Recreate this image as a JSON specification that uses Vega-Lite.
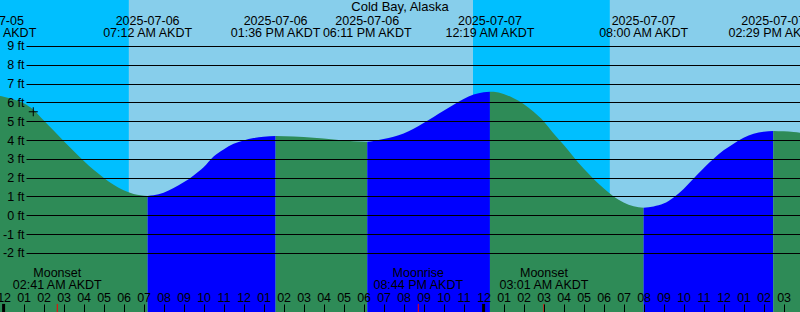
{
  "$schema": "https://vega.github.io/schema/vega-lite/v6.json",
  "width": 800,
  "height": 312,
  "autosize": {"type": "none"},
  "padding": 0,
  "background": "white",
  "config": {"view": {"stroke": null}, "font": "Liberation Sans", "axis": {"labelFontSize": 12.5, "labelFont": "Liberation Sans", "labelColor": "black"}},
  "title": {"text": "Cold Bay, Alaska", "fontSize": 13, "font": "Liberation Sans", "fontWeight": "normal", "color": "black", "offset": -24, "baseline": "alphabetic", "anchor": "middle"},
  "datasets": {
    "sky": [
      {"start": "2025-07-05T23:00", "end": "2025-07-06T06:16", "kind": "night"},
      {"start": "2025-07-06T06:16", "end": "2025-07-06T23:28", "kind": "day"},
      {"start": "2025-07-06T23:28", "end": "2025-07-07T06:19", "kind": "night"},
      {"start": "2025-07-07T06:19", "end": "2025-07-07T16:30", "kind": "day"}
    ],
    "tide": [
      {"time": "2025-07-05T23:25", "ft": 6.40, "kind": "falling", "seg": "A"},
      {"time": "2025-07-06T00:00", "ft": 6.30, "kind": "falling", "seg": "A"},
      {"time": "2025-07-06T00:30", "ft": 6.15, "kind": "falling", "seg": "A"},
      {"time": "2025-07-06T01:00", "ft": 5.95, "kind": "falling", "seg": "A"},
      {"time": "2025-07-06T01:30", "ft": 5.60, "kind": "falling", "seg": "A"},
      {"time": "2025-07-06T02:00", "ft": 5.05, "kind": "falling", "seg": "A"},
      {"time": "2025-07-06T02:30", "ft": 4.50, "kind": "falling", "seg": "A"},
      {"time": "2025-07-06T03:00", "ft": 3.95, "kind": "falling", "seg": "A"},
      {"time": "2025-07-06T03:30", "ft": 3.42, "kind": "falling", "seg": "A"},
      {"time": "2025-07-06T04:00", "ft": 2.90, "kind": "falling", "seg": "A"},
      {"time": "2025-07-06T04:30", "ft": 2.42, "kind": "falling", "seg": "A"},
      {"time": "2025-07-06T05:00", "ft": 2.00, "kind": "falling", "seg": "A"},
      {"time": "2025-07-06T05:30", "ft": 1.62, "kind": "falling", "seg": "A"},
      {"time": "2025-07-06T06:00", "ft": 1.33, "kind": "falling", "seg": "A"},
      {"time": "2025-07-06T06:30", "ft": 1.13, "kind": "falling", "seg": "A"},
      {"time": "2025-07-06T07:12", "ft": 1.03, "kind": "falling", "seg": "A"},
      {"time": "2025-07-06T07:12", "ft": 1.03, "kind": "rising", "seg": "B"},
      {"time": "2025-07-06T07:30", "ft": 1.06, "kind": "rising", "seg": "B"},
      {"time": "2025-07-06T08:00", "ft": 1.20, "kind": "rising", "seg": "B"},
      {"time": "2025-07-06T08:30", "ft": 1.45, "kind": "rising", "seg": "B"},
      {"time": "2025-07-06T09:00", "ft": 1.75, "kind": "rising", "seg": "B"},
      {"time": "2025-07-06T09:30", "ft": 2.12, "kind": "rising", "seg": "B"},
      {"time": "2025-07-06T10:00", "ft": 2.55, "kind": "rising", "seg": "B"},
      {"time": "2025-07-06T10:30", "ft": 3.12, "kind": "rising", "seg": "B"},
      {"time": "2025-07-06T11:00", "ft": 3.50, "kind": "rising", "seg": "B"},
      {"time": "2025-07-06T11:30", "ft": 3.80, "kind": "rising", "seg": "B"},
      {"time": "2025-07-06T12:00", "ft": 3.98, "kind": "rising", "seg": "B"},
      {"time": "2025-07-06T12:30", "ft": 4.10, "kind": "rising", "seg": "B"},
      {"time": "2025-07-06T13:00", "ft": 4.17, "kind": "rising", "seg": "B"},
      {"time": "2025-07-06T13:36", "ft": 4.21, "kind": "rising", "seg": "B"},
      {"time": "2025-07-06T13:36", "ft": 4.21, "kind": "falling", "seg": "C"},
      {"time": "2025-07-06T14:30", "ft": 4.18, "kind": "falling", "seg": "C"},
      {"time": "2025-07-06T15:30", "ft": 4.12, "kind": "falling", "seg": "C"},
      {"time": "2025-07-06T16:30", "ft": 4.03, "kind": "falling", "seg": "C"},
      {"time": "2025-07-06T17:30", "ft": 3.94, "kind": "falling", "seg": "C"},
      {"time": "2025-07-06T18:11", "ft": 3.91, "kind": "falling", "seg": "C"},
      {"time": "2025-07-06T18:11", "ft": 3.91, "kind": "rising", "seg": "D"},
      {"time": "2025-07-06T18:30", "ft": 3.95, "kind": "rising", "seg": "D"},
      {"time": "2025-07-06T19:00", "ft": 4.05, "kind": "rising", "seg": "D"},
      {"time": "2025-07-06T19:30", "ft": 4.17, "kind": "rising", "seg": "D"},
      {"time": "2025-07-06T20:00", "ft": 4.35, "kind": "rising", "seg": "D"},
      {"time": "2025-07-06T20:30", "ft": 4.60, "kind": "rising", "seg": "D"},
      {"time": "2025-07-06T21:00", "ft": 4.90, "kind": "rising", "seg": "D"},
      {"time": "2025-07-06T21:30", "ft": 5.22, "kind": "rising", "seg": "D"},
      {"time": "2025-07-06T22:00", "ft": 5.55, "kind": "rising", "seg": "D"},
      {"time": "2025-07-06T22:30", "ft": 5.88, "kind": "rising", "seg": "D"},
      {"time": "2025-07-06T23:00", "ft": 6.18, "kind": "rising", "seg": "D"},
      {"time": "2025-07-06T23:30", "ft": 6.42, "kind": "rising", "seg": "D"},
      {"time": "2025-07-07T00:00", "ft": 6.54, "kind": "rising", "seg": "D"},
      {"time": "2025-07-07T00:19", "ft": 6.57, "kind": "rising", "seg": "D"},
      {"time": "2025-07-07T00:19", "ft": 6.57, "kind": "falling", "seg": "E"},
      {"time": "2025-07-07T00:30", "ft": 6.56, "kind": "falling", "seg": "E"},
      {"time": "2025-07-07T01:00", "ft": 6.45, "kind": "falling", "seg": "E"},
      {"time": "2025-07-07T01:30", "ft": 6.22, "kind": "falling", "seg": "E"},
      {"time": "2025-07-07T02:00", "ft": 5.92, "kind": "falling", "seg": "E"},
      {"time": "2025-07-07T02:30", "ft": 5.50, "kind": "falling", "seg": "E"},
      {"time": "2025-07-07T03:00", "ft": 5.00, "kind": "falling", "seg": "E"},
      {"time": "2025-07-07T03:30", "ft": 4.35, "kind": "falling", "seg": "E"},
      {"time": "2025-07-07T04:00", "ft": 3.75, "kind": "falling", "seg": "E"},
      {"time": "2025-07-07T04:30", "ft": 3.10, "kind": "falling", "seg": "E"},
      {"time": "2025-07-07T05:00", "ft": 2.48, "kind": "falling", "seg": "E"},
      {"time": "2025-07-07T05:30", "ft": 1.93, "kind": "falling", "seg": "E"},
      {"time": "2025-07-07T06:00", "ft": 1.43, "kind": "falling", "seg": "E"},
      {"time": "2025-07-07T06:30", "ft": 1.00, "kind": "falling", "seg": "E"},
      {"time": "2025-07-07T07:00", "ft": 0.68, "kind": "falling", "seg": "E"},
      {"time": "2025-07-07T07:30", "ft": 0.48, "kind": "falling", "seg": "E"},
      {"time": "2025-07-07T08:00", "ft": 0.40, "kind": "falling", "seg": "E"},
      {"time": "2025-07-07T08:00", "ft": 0.40, "kind": "rising", "seg": "F"},
      {"time": "2025-07-07T08:30", "ft": 0.47, "kind": "rising", "seg": "F"},
      {"time": "2025-07-07T09:00", "ft": 0.62, "kind": "rising", "seg": "F"},
      {"time": "2025-07-07T09:30", "ft": 0.95, "kind": "rising", "seg": "F"},
      {"time": "2025-07-07T10:00", "ft": 1.40, "kind": "rising", "seg": "F"},
      {"time": "2025-07-07T10:30", "ft": 1.95, "kind": "rising", "seg": "F"},
      {"time": "2025-07-07T11:00", "ft": 2.50, "kind": "rising", "seg": "F"},
      {"time": "2025-07-07T11:30", "ft": 3.00, "kind": "rising", "seg": "F"},
      {"time": "2025-07-07T12:00", "ft": 3.45, "kind": "rising", "seg": "F"},
      {"time": "2025-07-07T12:30", "ft": 3.80, "kind": "rising", "seg": "F"},
      {"time": "2025-07-07T13:00", "ft": 4.12, "kind": "rising", "seg": "F"},
      {"time": "2025-07-07T13:30", "ft": 4.33, "kind": "rising", "seg": "F"},
      {"time": "2025-07-07T14:00", "ft": 4.44, "kind": "rising", "seg": "F"},
      {"time": "2025-07-07T14:29", "ft": 4.48, "kind": "rising", "seg": "F"},
      {"time": "2025-07-07T14:29", "ft": 4.48, "kind": "falling", "seg": "G"},
      {"time": "2025-07-07T15:00", "ft": 4.46, "kind": "falling", "seg": "G"},
      {"time": "2025-07-07T15:30", "ft": 4.42, "kind": "falling", "seg": "G"},
      {"time": "2025-07-07T16:00", "ft": 4.37, "kind": "falling", "seg": "G"}
    ],
    "now": [
      {"time": "2025-07-06T01:29", "ft": 5.5}
    ],
    "events": [
      {"time": "2025-07-05T23:25", "label": "2025-07-05\n11:25 PM AKDT"},
      {"time": "2025-07-06T07:12", "label": "2025-07-06\n07:12 AM AKDT"},
      {"time": "2025-07-06T13:36", "label": "2025-07-06\n01:36 PM AKDT"},
      {"time": "2025-07-06T18:11", "label": "2025-07-06\n06:11 PM AKDT"},
      {"time": "2025-07-07T00:19", "label": "2025-07-07\n12:19 AM AKDT"},
      {"time": "2025-07-07T08:00", "label": "2025-07-07\n08:00 AM AKDT"},
      {"time": "2025-07-07T14:29", "label": "2025-07-07\n02:29 PM AKDT"}
    ],
    "moon": [
      {"time": "2025-07-06T02:41", "label": "Moonset\n02:41 AM AKDT"},
      {"time": "2025-07-06T20:44", "label": "Moonrise\n08:44 PM AKDT"},
      {"time": "2025-07-07T03:01", "label": "Moonset\n03:01 AM AKDT"}
    ],
    "midnight": [
      {"time": "2025-07-06T00:00"},
      {"time": "2025-07-07T00:00"}
    ]
  },
  "layer": [
    {
      "data": {"name": "sky"},
      "mark": {"type": "rect", "clip": true},
      "encoding": {
        "x": {
          "field": "start", "type": "temporal",
          "scale": {"domain": ["2025-07-05T23:49:12", "2025-07-07T15:49:12"], "nice": false},
          "axis": {"orient": "bottom", "tickCount": 40, "format": "%I", "labelFlush": false, "labelOverlap": false, "labelPadding": -6.5, "labelBaseline": "middle", "labelFontSize": 12.5, "labelColor": "black", "labelFont": "Liberation Sans", "tickSize": -8, "tickColor": "black", "tickWidth": 1, "domain": false, "grid": false, "title": null, "zindex": 1}
        },
        "x2": {"field": "end"},
        "color": {
          "field": "kind", "type": "nominal",
          "scale": {"domain": ["night", "day", "falling", "rising"], "range": ["#00BFFF", "#87CEEB", "#2E8B57", "#0000FF"]},
          "legend": null
        }
      }
    },
    {
      "data": {"name": "tide"},
      "mark": {"type": "area", "clip": true, "interpolate": "monotone"},
      "encoding": {
        "x": {
          "field": "time", "type": "temporal",
          "axis": {"orient": "bottom", "tickCount": 40, "format": "%I", "labelFlush": false, "labelOverlap": false, "labelPadding": -6.5, "labelBaseline": "middle", "labelFontSize": 12.5, "labelColor": "black", "labelFont": "Liberation Sans", "tickSize": -8, "tickColor": "black", "tickWidth": 1, "domain": false, "grid": false, "title": null, "zindex": 1}
        },
        "y": {
          "field": "ft", "type": "quantitative",
          "scale": {"domain": [-5.14, 11.44], "nice": false, "zero": false},
          "axis": {"orient": "left", "offset": -26, "values": [-2, -1, 0, 1, 2, 3, 4, 5, 6, 7, 8, 9], "labelExpr": "datum.value + ' ft'", "labelOverlap": false, "labelAlign": "right", "labelBaseline": "middle", "labelPadding": 776, "labelFontSize": 12.5, "labelColor": "black", "labelFont": "Liberation Sans", "ticks": true, "tickSize": -774, "tickColor": "black", "tickWidth": 1, "domain": false, "grid": false, "title": null, "zindex": 1}
        },
        "y2": {"datum": -5.14},
        "color": {"field": "kind", "type": "nominal", "legend": null},
        "detail": {"field": "seg", "type": "nominal"}
      }
    },
    {
      "data": {"name": "midnight"},
      "mark": {"type": "rule", "color": "black", "strokeWidth": 3},
      "encoding": {
        "x": {"field": "time", "type": "temporal",
          "axis": {"orient": "bottom", "tickCount": 40, "format": "%I", "labelFlush": false, "labelOverlap": false, "labelPadding": -6.5, "labelBaseline": "middle", "labelFontSize": 12.5, "labelColor": "black", "labelFont": "Liberation Sans", "tickSize": -8, "tickColor": "black", "tickWidth": 1, "domain": false, "grid": false, "title": null, "zindex": 1}},
        "y": {"datum": -4.71, "type": "quantitative",
          "axis": {"orient": "left", "offset": -26, "values": [-2, -1, 0, 1, 2, 3, 4, 5, 6, 7, 8, 9], "labelExpr": "datum.value + ' ft'", "labelOverlap": false, "labelAlign": "right", "labelBaseline": "middle", "labelPadding": 776, "labelFontSize": 12.5, "labelColor": "black", "labelFont": "Liberation Sans", "ticks": true, "tickSize": -774, "tickColor": "black", "tickWidth": 1, "domain": false, "grid": false, "title": null, "zindex": 1}},
        "y2": {"datum": -5.14}
      }
    },
    {
      "data": {"name": "moon"},
      "mark": {"type": "rule", "color": "red", "strokeWidth": 1},
      "encoding": {
        "x": {"field": "time", "type": "temporal",
          "axis": {"orient": "bottom", "tickCount": 40, "format": "%I", "labelFlush": false, "labelOverlap": false, "labelPadding": -6.5, "labelBaseline": "middle", "labelFontSize": 12.5, "labelColor": "black", "labelFont": "Liberation Sans", "tickSize": -8, "tickColor": "black", "tickWidth": 1, "domain": false, "grid": false, "title": null, "zindex": 1}},
        "y": {"datum": -4.71, "type": "quantitative",
          "axis": {"orient": "left", "offset": -26, "values": [-2, -1, 0, 1, 2, 3, 4, 5, 6, 7, 8, 9], "labelExpr": "datum.value + ' ft'", "labelOverlap": false, "labelAlign": "right", "labelBaseline": "middle", "labelPadding": 776, "labelFontSize": 12.5, "labelColor": "black", "labelFont": "Liberation Sans", "ticks": true, "tickSize": -774, "tickColor": "black", "tickWidth": 1, "domain": false, "grid": false, "title": null, "zindex": 1}},
        "y2": {"datum": -5.14}
      }
    },
    {
      "data": {"name": "now"},
      "mark": {"type": "point", "shape": "M-1,0L1,0M0,-1L0,1", "size": 81, "filled": false, "stroke": "black", "strokeWidth": 1, "opacity": 1},
      "encoding": {
        "x": {"field": "time", "type": "temporal",
          "axis": {"orient": "bottom", "tickCount": 40, "format": "%I", "labelFlush": false, "labelOverlap": false, "labelPadding": -6.5, "labelBaseline": "middle", "labelFontSize": 12.5, "labelColor": "black", "labelFont": "Liberation Sans", "tickSize": -8, "tickColor": "black", "tickWidth": 1, "domain": false, "grid": false, "title": null, "zindex": 1}},
        "y": {"field": "ft", "type": "quantitative",
          "axis": {"orient": "left", "offset": -26, "values": [-2, -1, 0, 1, 2, 3, 4, 5, 6, 7, 8, 9], "labelExpr": "datum.value + ' ft'", "labelOverlap": false, "labelAlign": "right", "labelBaseline": "middle", "labelPadding": 776, "labelFontSize": 12.5, "labelColor": "black", "labelFont": "Liberation Sans", "ticks": true, "tickSize": -774, "tickColor": "black", "tickWidth": 1, "domain": false, "grid": false, "title": null, "zindex": 1}}
      }
    },
    {
      "data": {"name": "events"},
      "mark": {"type": "text", "lineBreak": "\n", "lineHeight": 12, "fontSize": 12.5, "font": "Liberation Sans", "baseline": "middle", "align": "center", "color": "black"},
      "encoding": {
        "x": {"field": "time", "type": "temporal",
          "axis": {"orient": "bottom", "tickCount": 40, "format": "%I", "labelFlush": false, "labelOverlap": false, "labelPadding": -6.5, "labelBaseline": "middle", "labelFontSize": 12.5, "labelColor": "black", "labelFont": "Liberation Sans", "tickSize": -8, "tickColor": "black", "tickWidth": 1, "domain": false, "grid": false, "title": null, "zindex": 1}},
        "y": {"datum": 10.35, "type": "quantitative",
          "axis": {"orient": "left", "offset": -26, "values": [-2, -1, 0, 1, 2, 3, 4, 5, 6, 7, 8, 9], "labelExpr": "datum.value + ' ft'", "labelOverlap": false, "labelAlign": "right", "labelBaseline": "middle", "labelPadding": 776, "labelFontSize": 12.5, "labelColor": "black", "labelFont": "Liberation Sans", "ticks": true, "tickSize": -774, "tickColor": "black", "tickWidth": 1, "domain": false, "grid": false, "title": null, "zindex": 1}},
        "text": {"field": "label"}
      }
    },
    {
      "data": {"name": "moon"},
      "mark": {"type": "text", "lineBreak": "\n", "lineHeight": 12, "fontSize": 12.5, "font": "Liberation Sans", "baseline": "middle", "align": "center", "color": "black"},
      "encoding": {
        "x": {"field": "time", "type": "temporal",
          "axis": {"orient": "bottom", "tickCount": 40, "format": "%I", "labelFlush": false, "labelOverlap": false, "labelPadding": -6.5, "labelBaseline": "middle", "labelFontSize": 12.5, "labelColor": "black", "labelFont": "Liberation Sans", "tickSize": -8, "tickColor": "black", "tickWidth": 1, "domain": false, "grid": false, "title": null, "zindex": 1}},
        "y": {"datum": -3.08, "type": "quantitative",
          "axis": {"orient": "left", "offset": -26, "values": [-2, -1, 0, 1, 2, 3, 4, 5, 6, 7, 8, 9], "labelExpr": "datum.value + ' ft'", "labelOverlap": false, "labelAlign": "right", "labelBaseline": "middle", "labelPadding": 776, "labelFontSize": 12.5, "labelColor": "black", "labelFont": "Liberation Sans", "ticks": true, "tickSize": -774, "tickColor": "black", "tickWidth": 1, "domain": false, "grid": false, "title": null, "zindex": 1}},
        "text": {"field": "label"}
      }
    }
  ]
}
